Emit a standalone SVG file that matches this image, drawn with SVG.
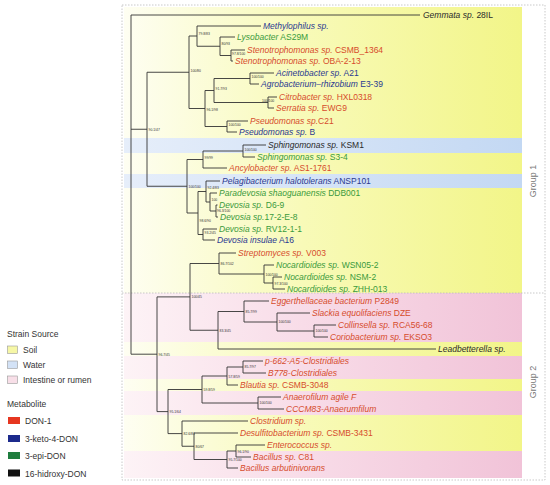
<svg xmlns="http://www.w3.org/2000/svg" width="550" height="485" viewBox="0 0 550 485">
<defs>
<linearGradient id="gY" gradientUnits="userSpaceOnUse" x1="124" y1="0" x2="522" y2="0">
<stop offset="0" stop-color="#fefef2"/><stop offset="0.45" stop-color="#f8fab8"/><stop offset="1" stop-color="#f2f588"/>
</linearGradient>
<linearGradient id="gP" gradientUnits="userSpaceOnUse" x1="124" y1="0" x2="522" y2="0">
<stop offset="0" stop-color="#fdf3f6"/><stop offset="0.45" stop-color="#f8dce8"/><stop offset="1" stop-color="#f1c3d8"/>
</linearGradient>
<linearGradient id="gB" gradientUnits="userSpaceOnUse" x1="124" y1="0" x2="522" y2="0">
<stop offset="0" stop-color="#e6eefa"/><stop offset="1" stop-color="#c3d8f3"/>
</linearGradient>
<style>
.t{font-family:"Liberation Sans",Arial,sans-serif;font-size:8.5px}
.i{font-style:italic}
.n{font-family:"Liberation Sans",Arial,sans-serif;font-size:3.4px;fill:#333}
.br{fill:none;stroke:#333;stroke-width:0.9}
.r{fill:#d64c2c}.g{fill:#3a9a3c}.b{fill:#2a3990}.k{fill:#2a2a2a}
.lg{font-family:"Liberation Sans",Arial,sans-serif;font-size:8.5px;fill:#333}
.grp{font-family:"Liberation Sans",Arial,sans-serif;font-size:9px;fill:#777}
.dash{fill:none;stroke:#bbb;stroke-width:0.8;stroke-dasharray:1.5 1.5}
</style>
</defs>
<g id="bands">
<rect x="124" y="7" width="398" height="131" fill="url(#gY)"/>
<rect x="124" y="138" width="398" height="15" fill="url(#gB)"/>
<rect x="124" y="153" width="398" height="21" fill="url(#gY)"/>
<rect x="124" y="174" width="398" height="14" fill="url(#gB)"/>
<rect x="124" y="188" width="398" height="105" fill="url(#gY)"/>
<rect x="124" y="293" width="398" height="49" fill="url(#gP)"/>
<rect x="124" y="342" width="398" height="14" fill="url(#gY)"/>
<rect x="124" y="356" width="398" height="23" fill="url(#gP)"/>
<rect x="124" y="379" width="398" height="12" fill="url(#gY)"/>
<rect x="124" y="391" width="398" height="24" fill="url(#gP)"/>
<rect x="124" y="415" width="398" height="36" fill="url(#gY)"/>
<rect x="124" y="451" width="398" height="27" fill="url(#gP)"/>
</g>
<g id="frame">
<rect class="dash" x="122" y="5" width="423" height="475"/>
<line class="dash" x1="122" y1="293" x2="545" y2="293"/>
<text class="grp" transform="translate(536,181) rotate(-90)" text-anchor="middle">Group 1</text>
<text class="grp" transform="translate(536,382) rotate(-90)" text-anchor="middle">Group 2</text>
</g>
<g id="connectors">
<path class="br" d="M131,15V354.2 M131,15H420 M131,129.25H147 M131,354.2H157
M147,72.25V186.25 M147,72.25H189 M147,186.25H187
M189,36V108.5 M189,36H197 M189,108.5H205
M197,26V46.25 M197,26H261 M197,46.25H220
M220,37V55.5 M220,37H235 M220,55.5H231
M231,50V61 M231,50H245 M231,61H233
M205,90.5V126.5 M205,90.5H214 M205,126.5H227
M214,78.5V102.5 M214,78.5H250 M214,102.5H268
M250,73V84 M250,73H274 M250,84H259
M268,97V108 M268,97H277 M268,108H274
M227,121V132 M227,121H248 M227,132H237
M187,159.5V213 M187,159.5H203 M187,213H198
M203,151V168 M203,151H243 M203,168H227
M243,145V157 M243,145H266 M243,157H255
M198,191.5V234.5 M198,191.5H206 M198,234.5H203
M206,181V202 M206,181H220 M206,202H210
M210,193V211 M210,193H217 M210,211H216
M216,205V217 M216,205H217.5 M216,217H218
M203,229V240 M203,229H217 M203,240H215
M157,296.9V411.6 M157,296.9H190 M157,411.6H168
M190,263.5V330.25 M190,263.5H219 M190,330.25H218
M219,253V274 M219,253H236 M219,274H264
M264,265V283 M264,265H274 M264,283H273
M273,277V289 M273,277H282 M273,289H285
M218,311.5V349 M218,311.5H244 M218,349H436
M244,301V322 M244,301H269 M244,322H277
M277,313V331 M277,313H310 M277,331H314
M314,325V337 M314,325H336 M314,337H328
M168,389.5V433.6 M168,389.5H202 M168,433.6H182
M202,376V403 M202,376H227 M202,403H258
M227,367V385 M227,367H243 M227,385H238
M243,361V373 M243,361H263 M243,373H266
M258,397V409 M258,397H281 M258,409H284
M182,421V446.25 M182,421H248 M182,446.25H194
M194,433V459.5 M194,433H238 M194,459.5H227
M227,451V468 M227,451H236 M227,468H238
M236,445V457 M236,445H265 M236,457H251"/>
</g>
<g id="support">
<text class="n" x="198.5" y="35">79.8/83</text>
<text class="n" x="221.5" y="45">80/93</text>
<text class="n" x="232" y="54.5">97.8/100</text>
<text class="n" x="190.5" y="71.5">100/80</text>
<text class="n" x="215.5" y="89.5">91.7/93</text>
<text class="n" x="251.5" y="78">100/100</text>
<text class="n" x="262" y="101.5">100/100</text>
<text class="n" x="206.5" y="110.5">96.1/98</text>
<text class="n" x="228.5" y="126">100/100</text>
<text class="n" x="148.5" y="130.5">90.1/47</text>
<text class="n" x="244.5" y="150.5">100/100</text>
<text class="n" x="204.5" y="159">99/99</text>
<text class="n" x="188.5" y="188">100/100</text>
<text class="n" x="207.5" y="189">92.4/83</text>
<text class="n" x="211.5" y="201">100</text>
<text class="n" x="217" y="212.2">96.3/100</text>
<text class="n" x="199.5" y="222">98.6/90</text>
<text class="n" x="204.5" y="234">93.2/45</text>
<text class="n" x="220.5" y="264.5">86.7/102</text>
<text class="n" x="265.5" y="275.5">100/100</text>
<text class="n" x="274.5" y="285">97.3/100</text>
<text class="n" x="191.5" y="298">100/45</text>
<text class="n" x="219.5" y="331.5">83.3/45</text>
<text class="n" x="245.5" y="312.5">85.7/99</text>
<text class="n" x="278.5" y="323">100/100</text>
<text class="n" x="315.5" y="331.5">100/100</text>
<text class="n" x="158.5" y="356">96.7/45</text>
<text class="n" x="244.5" y="368">85.7/97</text>
<text class="n" x="228.5" y="377.5">57.8/59</text>
<text class="n" x="203.5" y="391">59.8/59</text>
<text class="n" x="259.5" y="404">100/100</text>
<text class="n" x="169.5" y="413">95.1/64</text>
<text class="n" x="183.5" y="435">82.6/81</text>
<text class="n" x="195.5" y="448">80/67</text>
<text class="n" x="228.5" y="461">95.7/100</text>
<text class="n" x="237.5" y="452.5">96.1/90</text>
</g>
<g id="taxa">
<text id="t-gemmata" class="t k" x="423" y="18"><tspan class="i">Gemmata sp.</tspan> 28IL</text>
<text id="t-methylophilus" class="t b i" x="263" y="29">Methylophilus sp.</text>
<text id="t-lysobacter" class="t g" x="237" y="40"><tspan class="i">Lysobacter</tspan> AS29M</text>
<text id="t-steno1" class="t r" x="247" y="53"><tspan class="i">Stenotrophomonas sp.</tspan> CSMB_1364</text>
<text id="t-steno2" class="t r" x="235" y="64"><tspan class="i">Stenotrophomonas sp.</tspan> OBA-2-13</text>
<text id="t-acineto" class="t b" x="276" y="76"><tspan class="i">Acinetobacter sp.</tspan> A21</text>
<text id="t-agro" class="t b" x="261" y="87"><tspan class="i">Agrobacterium–rhizobium</tspan> E3-39</text>
<text id="t-citro" class="t r" x="279" y="100"><tspan class="i">Citrobacter sp.</tspan> HXL0318</text>
<text id="t-serratia" class="t r" x="276" y="111"><tspan class="i">Serratia sp.</tspan> EWG9</text>
<text id="t-pseudo1" class="t r" x="250" y="124"><tspan class="i">Pseudomonas sp.</tspan>C21</text>
<text id="t-pseudo2" class="t b" x="239" y="135"><tspan class="i">Pseudomonas sp.</tspan> B</text>
<text id="t-sphingo1" class="t k" x="268" y="148"><tspan class="i">Sphingomonas sp.</tspan> KSM1</text>
<text id="t-sphingo2" class="t g" x="257" y="160"><tspan class="i">Sphingomonas sp.</tspan> S3-4</text>
<text id="t-ancylo" class="t r" x="229" y="171"><tspan class="i">Ancylobacter sp.</tspan> AS1-1761</text>
<text id="t-pelagi" class="t b" x="222" y="184"><tspan class="i">Pelagibacterium halotolerans</tspan> ANSP101</text>
<text id="t-paradev" class="t g" x="219" y="196"><tspan class="i">Paradevosia shaoguanensis</tspan> DDB001</text>
<text id="t-dev1" class="t g" x="219" y="208"><tspan class="i">Devosia sp.</tspan> D6-9</text>
<text id="t-dev2" class="t g" x="220" y="220"><tspan class="i">Devosia sp.</tspan>17-2-E-8</text>
<text id="t-dev3" class="t g" x="219" y="232"><tspan class="i">Devosia sp.</tspan> RV12-1-1</text>
<text id="t-dev4" class="t b" x="217" y="243"><tspan class="i">Devosia insulae</tspan> A16</text>
<text id="t-strepto" class="t r" x="238" y="256"><tspan class="i">Streptomyces sp.</tspan> V003</text>
<text id="t-noca1" class="t g" x="276" y="268"><tspan class="i">Nocardioides sp.</tspan> WSN05-2</text>
<text id="t-noca2" class="t g" x="284" y="280"><tspan class="i">Nocardioides sp.</tspan> NSM-2</text>
<text id="t-noca3" class="t g" x="287" y="292"><tspan class="i">Nocardioides sp.</tspan> ZHH-013</text>
<text id="t-egger" class="t r" x="271" y="304"><tspan class="i">Eggerthellaceae bacterium</tspan> P2849</text>
<text id="t-slackia" class="t r" x="312" y="316"><tspan class="i">Slackia equolifaciens</tspan> DZE</text>
<text id="t-collin" class="t r" x="338" y="328"><tspan class="i">Collinsella sp.</tspan> RCA56-68</text>
<text id="t-corio" class="t r" x="330" y="340"><tspan class="i">Coriobacterium sp.</tspan> EKSO3</text>
<text id="t-leadb" class="t k i" x="438" y="352">Leadbetterella sp.</text>
<text id="t-p662" class="t r i" x="265" y="364">p-662-A5-Clostridiales</text>
<text id="t-b778" class="t r i" x="268" y="376">B778-Clostridiales</text>
<text id="t-blautia" class="t r" x="240" y="388"><tspan class="i">Blautia sp.</tspan> CSMB-3048</text>
<text id="t-anaero" class="t r i" x="283" y="400">Anaerofilum agile F</text>
<text id="t-cccm" class="t r i" x="286" y="412">CCCM83-Anaerumfilum</text>
<text id="t-clostr" class="t r i" x="250" y="424">Clostridium sp.</text>
<text id="t-desulf" class="t r" x="240" y="436"><tspan class="i">Desulfitobacterium sp.</tspan> CSMB-3431</text>
<text id="t-entero" class="t r i" x="267" y="448">Enterococcus sp.</text>
<text id="t-bac1" class="t r" x="253" y="460"><tspan class="i">Bacillus sp.</tspan> C81</text>
<text id="t-bac2" class="t r i" x="240" y="471">Bacillus arbutinivorans</text>
</g>
<g id="legend">
<text class="lg" x="7" y="337">Strain Source</text>
<rect x="7.5" y="346" width="10" height="7.5" fill="#f6f7a6" stroke="#999" stroke-width="0.6"/>
<text class="lg" x="23" y="353">Soil</text>
<rect x="7.5" y="361" width="10" height="7.5" fill="#d3e2f6" stroke="#999" stroke-width="0.6"/>
<text class="lg" x="23" y="368">Water</text>
<rect x="7.5" y="376" width="10" height="7.5" fill="#f8dfe8" stroke="#999" stroke-width="0.6"/>
<text class="lg" x="23" y="383">Intestine or rumen</text>
<text class="lg" x="7" y="407">Metabolite</text>
<rect x="8" y="417" width="12" height="7" fill="#e63620"/>
<text class="lg" x="25" y="424">DON-1</text>
<rect x="8" y="435" width="12" height="7" fill="#1c2a8c"/>
<text class="lg" x="25" y="442">3-keto-4-DON</text>
<rect x="8" y="452" width="12" height="7" fill="#1f7d3e"/>
<text class="lg" x="25" y="459">3-epi-DON</text>
<rect x="8" y="469.5" width="12" height="7" fill="#111"/>
<text class="lg" x="25" y="476.5">16-hidroxy-DON</text>
</g>
</svg>
